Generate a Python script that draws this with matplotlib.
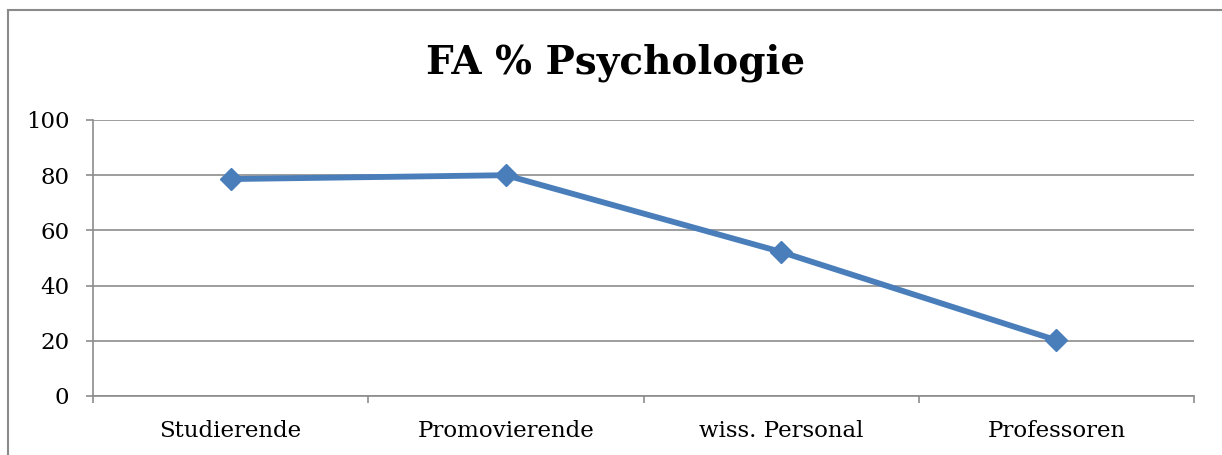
import matplotlib
matplotlib.use("Agg")
import matplotlib.pyplot as plt
from matplotlib.patches import Rectangle
from matplotlib.ticker import FixedLocator

categories = ["Studierende", "Promovierende", "wiss. Personal", "Professoren"]
values = [78.6, 80.0, 52.2, 20.2]
yticks = [0, 20, 40, 60, 80, 100]
title = "FA % Psychologie"

W, H, DPI = 1222, 455, 100
fig = plt.figure(figsize=(W / DPI, H / DPI), dpi=DPI)
plt.rcParams['font.family'] = ['DejaVu Serif']

# outer chart border (extends beyond right/bottom edges)
fig.patches.append(Rectangle((8 / W, -0.1), 1.2, 1 - 10 / H + 0.1, transform=fig.transFigure,
                             fill=False, edgecolor="#8a8a8a", linewidth=1.5))

ax = fig.add_axes([93 / W, 1 - 396 / H, (1194 - 93) / W, (396 - 120) / H])
grid_c = "#8c8c8c"
x = list(range(len(categories)))
ax.plot(x, values, color="#4a7ebb", linewidth=4.2, marker="D", markersize=11.5,
        markerfacecolor="#4a7ebb", markeredgecolor="#4a7ebb", zorder=3, clip_on=False)

ax.set_xlim(-0.5, len(categories) - 0.5)
ax.set_ylim(0, 100)
ax.set_yticks(yticks)
ax.set_xticks(x)
ax.set_xticklabels(categories)
ax.xaxis.set_minor_locator(FixedLocator([i - 0.5 for i in range(len(categories) + 1)]))
ax.tick_params(axis="x", which="major", length=0, pad=17, labelsize=16.5, colors="black")
ax.tick_params(axis="x", which="minor", length=5, width=1.2, color=grid_c, direction="out")
ax.tick_params(axis="y", length=5, width=1.2, color=grid_c, pad=12, labelsize=16.5)
ax.grid(axis="y", color=grid_c, linewidth=1.2)
ax.set_axisbelow(True)
for s in ["top", "right"]:
    ax.spines[s].set_visible(False)
for s in ["left", "bottom"]:
    ax.spines[s].set_color(grid_c)
    ax.spines[s].set_linewidth(1.2)

fig.text(616 / W, 1 - 63 / H, title, ha="center", va="center", fontsize=28,
         fontweight="bold")

fig.savefig("out.png", dpi=DPI)
